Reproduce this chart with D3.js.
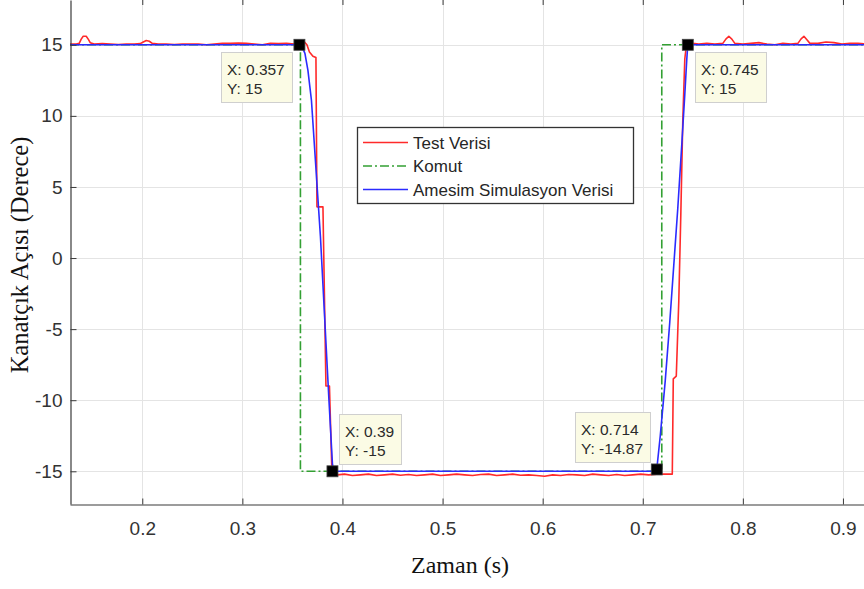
<!DOCTYPE html>
<html><head><meta charset="utf-8">
<script src="https://cdn.jsdelivr.net/npm/d3@7"></script>
<style>body{margin:0;background:#fff}svg{display:block}</style>
</head><body>
<svg id="c" width="864" height="589"></svg>
<script>
// ---------- data ----------
const xTicks = [0.2, 0.3, 0.4, 0.5, 0.6, 0.7, 0.8, 0.9];
const yTicks = [-15, -10, -5, 0, 5, 10, 15];
const seriesNames = ["Test Verisi", "Komut", "Amesim Simulasyon Verisi"];

const tTest = [0.1278,0.134,0.137,0.139,0.141,0.144,0.146,0.148,0.152,0.160,0.168,0.176,0.184,0.192,0.198,0.201,0.204,0.207,0.210,0.216,0.224,0.232,0.240,0.248,0.256,0.264,0.272,0.280,0.288,0.296,0.304,0.312,0.320,0.328,0.336,0.344,0.352,0.357,0.362,0.3645,0.367,0.3705,0.3735,0.3745,0.3805,0.3835,0.387,0.3895,0.395,0.402,0.410,0.418,0.426,0.434,0.442,0.450,0.458,0.466,0.474,0.482,0.490,0.498,0.506,0.514,0.522,0.530,0.538,0.546,0.554,0.562,0.570,0.578,0.586,0.594,0.602,0.610,0.618,0.626,0.634,0.642,0.650,0.658,0.666,0.674,0.682,0.690,0.698,0.706,0.714,0.722,0.7295,0.7305,0.7335,0.736,0.738,0.740,0.742,0.744,0.747,0.750,0.756,0.764,0.772,0.780,0.783,0.786,0.789,0.792,0.800,0.808,0.816,0.824,0.832,0.840,0.848,0.855,0.858,0.861,0.864,0.867,0.875,0.883,0.891,0.899,0.907,0.915,0.925,0.935,0.95];
const yTest = [15.05,15.05,15.1,15.4,15.6,15.6,15.4,15.15,15.05,15.08,15.05,15.02,15.05,15.05,15.08,15.2,15.3,15.25,15.1,15.05,15.05,15.02,15.05,15.05,15.05,15.0,15.05,15.1,15.1,15.12,15.1,15.05,15.0,15.1,15.08,15.1,15.05,15.1,15.2,15.0,14.5,14.2,14.1,3.6,3.6,-9.0,-9.0,-15.2,-15.25,-15.2,-15.3,-15.25,-15.2,-15.3,-15.25,-15.2,-15.28,-15.22,-15.3,-15.25,-15.2,-15.3,-15.25,-15.2,-15.25,-15.3,-15.22,-15.2,-15.3,-15.25,-15.2,-15.28,-15.25,-15.3,-15.35,-15.25,-15.3,-15.22,-15.25,-15.3,-15.2,-15.25,-15.3,-15.22,-15.3,-15.25,-15.2,-15.25,-15.2,-15.2,-15.2,-8.5,-8.3,-3,3,9.7,14.0,15.2,15.3,15.1,15.05,15.1,15.05,15.1,15.4,15.6,15.4,15.1,15.05,15.1,15.15,15.05,15.0,15.1,15.05,15.1,15.4,15.6,15.35,15.1,15.1,15.2,15.15,15.05,15.1,15.1,15.05,15.1,15.05];

const tCmd = [0.1278, 0.358, 0.358, 0.719, 0.719, 0.95];
const yCmd = [15, 15, -15, -15, 15, 15];

const tSim = [0.1278,0.357,0.360,0.3625,0.3655,0.369,0.378,0.3865,0.390,0.391,0.713,0.714,0.7175,0.7225,0.727,0.731,0.735,0.739,0.742,0.744,0.745,0.95];
const ySim = [15,15,14.8,14.4,13.2,11.1,1.5,-10,-14.5,-15,-15,-14.87,-12.5,-8.6,-4.5,-0.5,3.5,8,11.5,14,15,15];

const tipX = [0.357, 0.745, 0.39, 0.714];
const tipY = [15, 15, -15, -14.87];
const tipTextX = ["0.357", "0.745", "0.39", "0.714"];
const tipTextY = ["15", "15", "-15", "-14.87"];

// ---------- layout ----------
const tipPlace = ["bl", "br", "tr", "tl"];
const colors = ["#ff2a2a", "#33a033", "#2b2bff"];
const L = 70, T = 0, B = 504, R = 893;
const sans = "'Liberation Sans', Arial, Helvetica, sans-serif";
const serif = "'Liberation Serif', 'Times New Roman', Times, serif";

const svg = d3.select("#c");
const x = d3.scaleLinear().domain([0.1278, 0.95]).range([L, R]);
const y = d3.scaleLinear().domain([-17.3, 18.15]).range([B, T]);

svg.append("defs").append("clipPath").attr("id", "clip")
  .append("rect").attr("x", L).attr("y", T).attr("width", R - L).attr("height", B - T);

// grid
const grid = svg.append("g").attr("stroke", "#e4e4e4").attr("stroke-width", 1);
grid.selectAll(".gx").data(xTicks).join("line")
  .attr("x1", d => Math.round(x(d)) + 0.5).attr("x2", d => Math.round(x(d)) + 0.5)
  .attr("y1", T).attr("y2", B);
grid.selectAll(".gy").data(yTicks).join("line")
  .attr("y1", d => Math.round(y(d)) + 0.5).attr("y2", d => Math.round(y(d)) + 0.5)
  .attr("x1", L).attr("x2", R);

// series
const line = d3.line().x(d => x(d[0])).y(d => y(d[1]));
const plot = svg.append("g").attr("clip-path", "url(#clip)").attr("fill", "none");
plot.append("path").datum(d3.zip(tTest, yTest)).attr("d", line)
  .attr("stroke", colors[0]).attr("stroke-width", 1.6).attr("stroke-linejoin", "round");
plot.append("path").datum(d3.zip(tCmd, yCmd)).attr("d", line)
  .attr("stroke", colors[1]).attr("stroke-width", 1.6).attr("stroke-dasharray", "9,3,2,3");
plot.append("path").datum(d3.zip(tSim, ySim)).attr("d", line)
  .attr("stroke", colors[2]).attr("stroke-width", 1.6).attr("stroke-linejoin", "round");

// axes
const axisColor = "#3a3a3a";
const xAxis = svg.append("g").attr("transform", `translate(0,${B + 0.5})`)
  .call(d3.axisBottom(x).tickValues(xTicks).tickSize(-6).tickSizeOuter(0).tickFormat(d => d.toFixed(1)));
xAxis.selectAll("text").attr("y", 30).attr("dy", 0).attr("font-size", 19)
  .attr("font-family", sans).attr("fill", "#333");
const xTop = svg.append("g").attr("transform", `translate(0,-1)`)
  .call(d3.axisTop(x).tickValues(xTicks).tickSize(-6).tickSizeOuter(0).tickFormat(""));
const yAxis = svg.append("g").attr("transform", `translate(${L + 0.5},0)`)
  .call(d3.axisLeft(y).tickValues(yTicks).tickSize(-6).tickSizeOuter(0).tickPadding(8).tickFormat(d => String(d)));
yAxis.selectAll("text").attr("font-size", 19).attr("font-family", sans).attr("fill", "#333");
[xAxis, xTop, yAxis].forEach(g => {
  g.select(".domain").attr("stroke", axisColor).attr("stroke-width", 1.2);
  g.selectAll(".tick line").attr("stroke", axisColor);
});

// axis titles
svg.append("text").attr("x", 460).attr("y", 573).attr("text-anchor", "middle")
  .attr("font-family", serif).attr("font-size", 24).attr("fill", "#111").text("Zaman (s)");
svg.append("text").attr("transform", "translate(28,255) rotate(-90)").attr("text-anchor", "middle")
  .attr("font-family", serif).attr("font-size", 24.5).attr("fill", "#111").text("Kanatçık Açısı (Derece)");

// legend
const lg = svg.append("g");
lg.append("rect").attr("x", 357.5).attr("y", 127.5).attr("width", 276).attr("height", 76)
  .attr("fill", "#fff").attr("stroke", "#333").attr("stroke-width", 1.3);
const rowsY = [142.5, 166, 189.5];
const dashes = [null, "9,3,2,3", null];
seriesNames.forEach((n, i) => {
  lg.append("line").attr("x1", 363).attr("x2", 408).attr("y1", rowsY[i]).attr("y2", rowsY[i])
    .attr("stroke", colors[i]).attr("stroke-width", 1.6).attr("stroke-dasharray", dashes[i]);
  lg.append("text").attr("x", 413).attr("y", rowsY[i] + 6).attr("font-family", sans)
    .attr("font-size", 17).attr("fill", "#262626").text(n);
});

// datatips
const tips = svg.append("g");
tipX.forEach((tx, i) => {
  const mx = x(tx), my = y(tipY[i]);
  const g = tips.append("g");
  const l1 = "X: " + tipTextX[i], l2 = "Y: " + tipTextY[i];
  const t1 = g.append("text").attr("font-family", sans).attr("font-size", 15.5).text(l1);
  const t2 = g.append("text").attr("font-family", sans).attr("font-size", 15.5).text(l2);
  const w1 = Math.max(t1.node().getComputedTextLength(), t2.node().getComputedTextLength());
  const bw = Math.round(w1 + 13), bh = 50, gap = 7;
  const p = tipPlace[i];
  const bx = p[1] === "l" ? mx - gap - bw : mx + gap;
  const by = p[0] === "b" ? my + gap : my - gap - bh;
  g.insert("rect", "text").attr("x", Math.round(bx) + 0.5).attr("y", Math.round(by) + 0.5)
    .attr("width", bw).attr("height", bh).attr("fill", "#fbfbe5").attr("stroke", "#cfcfcf");
  t1.attr("x", Math.round(bx) + 6).attr("y", Math.round(by) + 23).attr("fill", "#2a2a2a");
  t2.attr("x", Math.round(bx) + 6).attr("y", Math.round(by) + 42).attr("fill", "#2a2a2a");
  tips.append("rect").attr("x", mx - 5.5).attr("y", my - 5.5).attr("width", 11).attr("height", 11)
    .attr("fill", "#000").attr("stroke", "#444").attr("stroke-width", 0.8);
});
</script>
</body></html>
